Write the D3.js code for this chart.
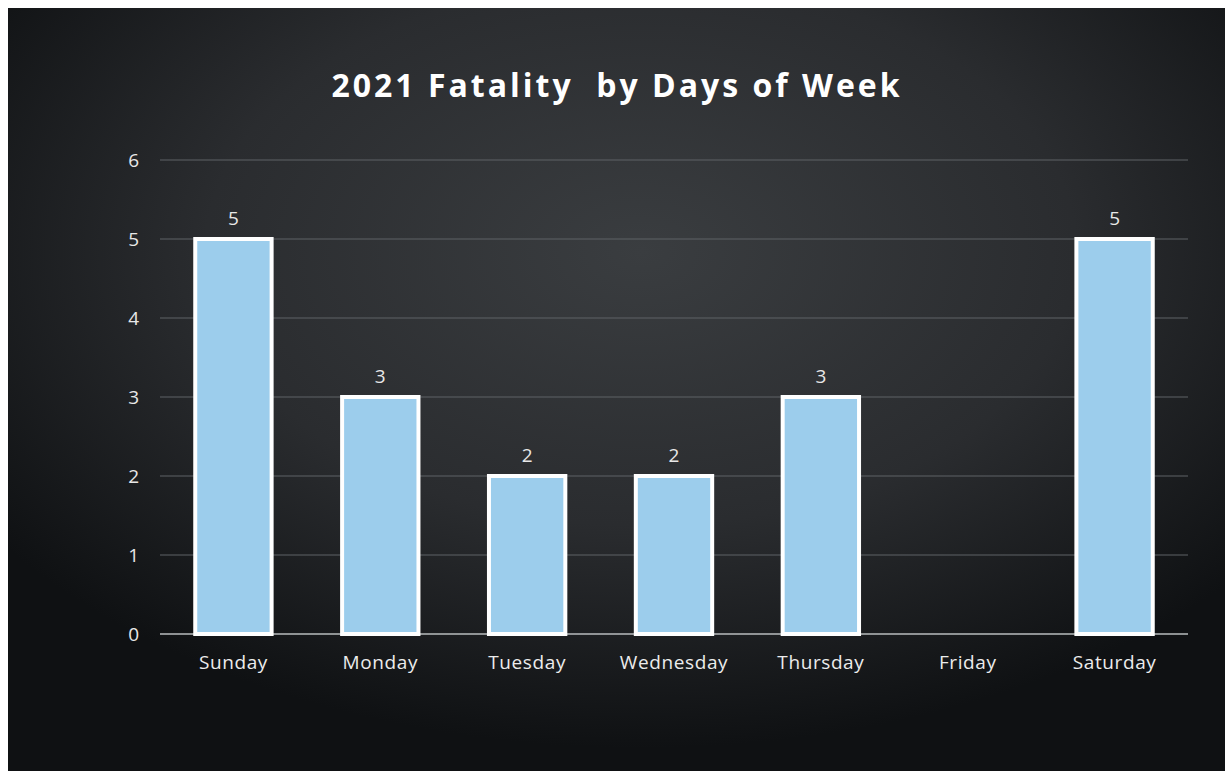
<!DOCTYPE html>
<html>
<head>
<meta charset="utf-8">
<script src="https://cdn.jsdelivr.net/npm/d3@7"></script>
<style>
  body { margin: 0; background: #fff; }
  svg { display: block; }
</style>
</head>
<body>
<div id="chart"></div>
<script>
const days = ["Sunday", "Monday", "Tuesday", "Wednesday", "Thursday", "Friday", "Saturday"];
const fatalities = [5, 3, 2, 2, 3, 0, 5];
const yTicks = [0, 1, 2, 3, 4, 5, 6];
const chartTitle = "2021 Fatality  by Days of Week";

let W = 1225, H = 777;
let margin = { top: 160, right: 37, bottom: 143, left: 160 },
  width = W - margin.left - margin.right,
  height = H - margin.top - margin.bottom;

let svg = d3.select("#chart").append("svg")
  .attr("width", W)
  .attr("height", H);

// dark panel with a soft light spot near the top middle
let defs = svg.append("defs");
let grad = defs.append("radialGradient")
  .attr("id", "bg")
  .attr("cx", "0.52").attr("cy", "0.32")
  .attr("r", "0.65");
grad.append("stop").attr("offset", "0%").attr("stop-color", "#3a3d40");
grad.append("stop").attr("offset", "55%").attr("stop-color", "#2a2c2f");
grad.append("stop").attr("offset", "100%").attr("stop-color", "#0f1113");

svg.append("rect")
  .attr("x", 8).attr("y", 8)
  .attr("width", W - 8).attr("height", H - 14)
  .attr("fill", "url(#bg)");

let g = svg.append("g")
  .attr("transform", "translate(" + margin.left + "," + margin.top + ")");

let x = d3.scaleBand()
  .domain(days)
  .range([0, width]);

let y = d3.scaleLinear()
  .domain([0, 6])
  .range([height, 0]);

// gridlines
g.append("g")
  .selectAll("line")
  .data(yTicks)
  .enter()
  .append("line")
  .attr("x1", 0)
  .attr("x2", width)
  .attr("y1", d => y(d))
  .attr("y2", d => y(d))
  .attr("stroke", d => d == 0 ? "#b9bcbe" : "#5f6366")
  .attr("stroke-width", d => d == 0 ? 1.5 : 1);

// y axis labels
let yaxis = g.append("g")
  .call(d3.axisLeft(y).tickValues(yTicks).tickFormat(d3.format("d")).tickSize(0).tickPadding(21));
yaxis.select(".domain").remove();
yaxis.selectAll("text")
  .attr("fill", "#e8e8e8")
  .attr("font-size", "19px")
  .attr("font-family", "'Open Sans', sans-serif");

// x axis labels
let xaxis = g.append("g")
  .attr("transform", "translate(0," + height + ")")
  .call(d3.axisBottom(x).tickSize(0).tickPadding(22));
xaxis.select(".domain").remove();
xaxis.selectAll("text")
  .attr("fill", "#ececec")
  .attr("font-size", "19px")
  .attr("letter-spacing", "0.6px")
  .attr("font-family", "'Open Sans', sans-serif");

let barW = x.bandwidth() * 0.52;
let withData = days.map((d, i) => ({ day: d, value: fatalities[i] })).filter(d => d.value > 0);

g.selectAll(".bar")
  .data(withData)
  .enter()
  .append("rect")
  .attr("class", "bar")
  .attr("x", d => x(d.day) + (x.bandwidth() - barW) / 2)
  .attr("width", barW)
  .attr("y", d => y(d.value))
  .attr("height", d => height - y(d.value))
  .attr("fill", "#9ccdec")
  .attr("stroke", "#ffffff")
  .attr("stroke-width", 4);

g.selectAll(".val")
  .data(withData)
  .enter()
  .append("text")
  .attr("class", "val")
  .attr("x", d => x(d.day) + x.bandwidth() / 2)
  .attr("y", d => y(d.value) - 14)
  .attr("text-anchor", "middle")
  .attr("fill", "#e8e8e8")
  .attr("font-size", "19px")
  .attr("font-family", "'Open Sans', sans-serif")
  .text(d => d.value);

// title
svg.append("text")
  .attr("x", 617)
  .attr("y", 97)
  .attr("text-anchor", "middle")
  .attr("fill", "#ffffff")
  .attr("font-size", "32px")
  .attr("font-weight", "bold")
  .attr("letter-spacing", "3px")
  .attr("font-family", "'Open Sans', sans-serif")
  .style("white-space", "pre")
  .text(chartTitle);
</script>
</body>
</html>
